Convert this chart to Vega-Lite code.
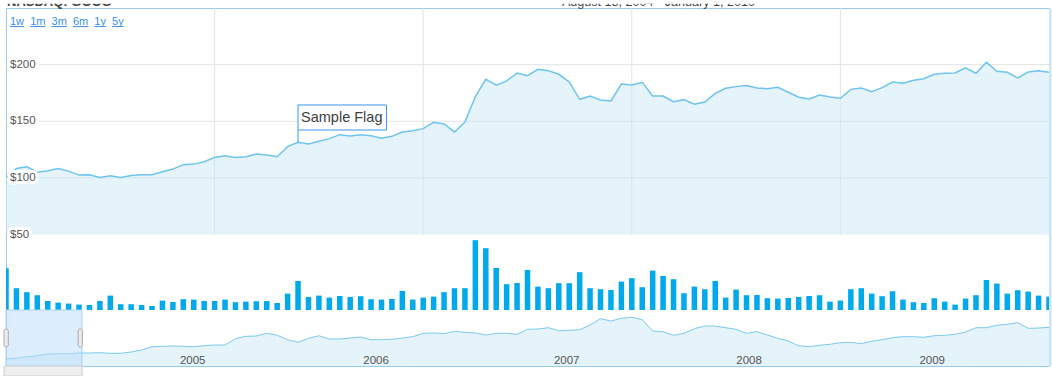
{
  "$schema": "https://vega.github.io/schema/vega-lite/v6.json",
  "width": 1043,
  "height": 358,
  "autosize": {"type": "none"},
  "padding": {"left": 6, "top": 8, "right": 3, "bottom": 10},
  "background": "white",
  "config": {
    "view": {"stroke": "#94ccf4", "strokeWidth": 1},
    "font": "Liberation Sans",
    "scale": {"continuousPadding": 0}
  },
  "datasets": {
    "s": [
      {"i":0,"close":100.2,"vol":20.9,"nav":78},
      {"i":1,"close":108.4,"vol":10.9,"nav":80.8},
      {"i":2,"close":109.9,"vol":8.9,"nav":87.2},
      {"i":3,"close":105.1,"vol":7.4,"nav":91.2},
      {"i":4,"close":106.3,"vol":4.5,"nav":98},
      {"i":5,"close":108.4,"vol":3.7,"nav":99.2},
      {"i":6,"close":106.0,"vol":3.2,"nav":99.2},
      {"i":7,"close":102.5,"vol":2.7,"nav":102},
      {"i":8,"close":102.8,"vol":2.5,"nav":102},
      {"i":9,"close":100.4,"vol":4.5,"nav":103.2},
      {"i":10,"close":101.9,"vol":7.2,"nav":100.8},
      {"i":11,"close":100.4,"vol":2.9,"nav":100.8},
      {"i":12,"close":102.2,"vol":2.9,"nav":106},
      {"i":13,"close":102.8,"vol":2.5,"nav":114},
      {"i":14,"close":102.8,"vol":2.0,"nav":127.2},
      {"i":15,"close":105.5,"vol":4.7,"nav":128.8},
      {"i":16,"close":107.8,"vol":4.0,"nav":130},
      {"i":17,"close":111.7,"vol":5.4,"nav":128.8},
      {"i":18,"close":112.2,"vol":5.2,"nav":127.2},
      {"i":19,"close":114.3,"vol":4.5,"nav":131.2},
      {"i":20,"close":118.1,"vol":4.5,"nav":134},
      {"i":21,"close":119.6,"vol":5.2,"nav":134},
      {"i":22,"close":118.1,"vol":3.9,"nav":159.2},
      {"i":23,"close":118.7,"vol":4.2,"nav":168.8},
      {"i":24,"close":121.1,"vol":4.4,"nav":170},
      {"i":25,"close":120.2,"vol":4.5,"nav":180.8},
      {"i":26,"close":118.7,"vol":3.5,"nav":172.8},
      {"i":27,"close":127.6,"vol":8.2,"nav":155.2},
      {"i":28,"close":131.4,"vol":14.5,"nav":144.8},
      {"i":29,"close":129.9,"vol":6.5,"nav":160.8},
      {"i":30,"close":132.3,"vol":7.2,"nav":171.2},
      {"i":31,"close":134.7,"vol":6.2,"nav":158},
      {"i":32,"close":138.2,"vol":7.0,"nav":158},
      {"i":33,"close":137.0,"vol":6.5,"nav":162},
      {"i":34,"close":138.2,"vol":6.9,"nav":166},
      {"i":35,"close":137.3,"vol":5.4,"nav":155.2},
      {"i":36,"close":135.0,"vol":5.2,"nav":155.2},
      {"i":37,"close":136.7,"vol":5.5,"nav":156.8},
      {"i":38,"close":140.6,"vol":9.5,"nav":162},
      {"i":39,"close":141.7,"vol":5.2,"nav":167.2},
      {"i":40,"close":143.5,"vol":6.2,"nav":180.8},
      {"i":41,"close":149.1,"vol":6.7,"nav":182},
      {"i":42,"close":147.6,"vol":8.9,"nav":179.2},
      {"i":43,"close":140.6,"vol":10.9,"nav":188.8},
      {"i":44,"close":149.4,"vol":10.9,"nav":184.8},
      {"i":45,"close":171.8,"vol":34.9,"nav":182},
      {"i":46,"close":187.1,"vol":30.9,"nav":174},
      {"i":47,"close":181.8,"vol":21.0,"nav":180.8},
      {"i":48,"close":185.6,"vol":12.9,"nav":180.8},
      {"i":49,"close":192.6,"vol":13.5,"nav":176.8},
      {"i":50,"close":190.3,"vol":20.0,"nav":196.8},
      {"i":51,"close":195.9,"vol":11.7,"nav":198},
      {"i":52,"close":194.7,"vol":10.9,"nav":203.2},
      {"i":53,"close":191.5,"vol":13.4,"nav":191.2},
      {"i":54,"close":184.7,"vol":13.4,"nav":192.8},
      {"i":55,"close":169.4,"vol":18.9,"nav":195.2},
      {"i":56,"close":172.3,"vol":10.9,"nav":214},
      {"i":57,"close":168.8,"vol":10.4,"nav":239.2},
      {"i":58,"close":167.9,"vol":10.0,"nav":230},
      {"i":59,"close":182.9,"vol":14.2,"nav":240.8},
      {"i":60,"close":182.1,"vol":15.9,"nav":244.8},
      {"i":61,"close":184.4,"vol":11.4,"nav":235.2},
      {"i":62,"close":172.3,"vol":19.7,"nav":190},
      {"i":63,"close":172.3,"vol":17.0,"nav":187.2},
      {"i":64,"close":167.3,"vol":15.4,"nav":172.8},
      {"i":65,"close":169.1,"vol":8.4,"nav":180.8},
      {"i":66,"close":165.0,"vol":11.7,"nav":199.2},
      {"i":67,"close":167.0,"vol":10.4,"nav":210},
      {"i":68,"close":174.7,"vol":14.5,"nav":210},
      {"i":69,"close":179.1,"vol":6.2,"nav":203.2},
      {"i":70,"close":180.6,"vol":10.2,"nav":196.8},
      {"i":71,"close":181.5,"vol":7.4,"nav":180.8},
      {"i":72,"close":179.4,"vol":7.5,"nav":187.2},
      {"i":73,"close":178.8,"vol":5.9,"nav":174},
      {"i":74,"close":180.0,"vol":5.7,"nav":160.8},
      {"i":75,"close":175.6,"vol":6.0,"nav":150},
      {"i":76,"close":171.2,"vol":6.5,"nav":131.2},
      {"i":77,"close":169.7,"vol":7.0,"nav":127.2},
      {"i":78,"close":173.2,"vol":7.4,"nav":132.8},
      {"i":79,"close":171.5,"vol":4.2,"nav":136.8},
      {"i":80,"close":170.3,"vol":4.7,"nav":143.2},
      {"i":81,"close":178.2,"vol":10.4,"nav":144.8},
      {"i":82,"close":179.4,"vol":10.9,"nav":139.2},
      {"i":83,"close":176.2,"vol":8.2,"nav":148.8},
      {"i":84,"close":179.7,"vol":6.9,"nav":155.2},
      {"i":85,"close":184.7,"vol":9.4,"nav":163.2},
      {"i":86,"close":183.5,"vol":5.2,"nav":167.2},
      {"i":87,"close":186.2,"vol":3.9,"nav":167.2},
      {"i":88,"close":187.6,"vol":3.5,"nav":164.8},
      {"i":89,"close":191.5,"vol":5.9,"nav":171.2},
      {"i":90,"close":192.4,"vol":4.2,"nav":172.8},
      {"i":91,"close":192.6,"vol":2.7,"nav":176.8},
      {"i":92,"close":197.1,"vol":5.7,"nav":186},
      {"i":93,"close":192.4,"vol":7.4,"nav":203.2},
      {"i":94,"close":202.1,"vol":15.0,"nav":203.2},
      {"i":95,"close":194.1,"vol":13.2,"nav":212.8},
      {"i":96,"close":193.2,"vol":8.2,"nav":216.8},
      {"i":97,"close":188.2,"vol":9.9,"nav":223.2},
      {"i":98,"close":193.5,"vol":9.2,"nav":200.8},
      {"i":99,"close":194.7,"vol":7.2,"nav":202},
      {"i":100,"close":193.2,"vol":6.7,"nav":204.8}
    ],
    "hg": [{"v": 100}, {"v": 150}, {"v": 200}],
    "vg": [{"i": 20}, {"i": 40}, {"i": 60}, {"i": 80}],
    "yrs": [{"i": 17.9, "yr": "2005"}, {"i": 35.48, "yr": "2006"}, {"i": 53.76, "yr": "2007"}, {"i": 71.24, "yr": "2008"}, {"i": 88.8, "yr": "2009"}],
    "lab": [{"v": 50, "t": "$50"}, {"v": 100, "t": "$100"}, {"v": 150, "t": "$150"}, {"v": 200, "t": "$200"}]
  },
  "resolve": {"scale": {"y": "independent"}, "axis": {"y": "independent"}},
  "layer": [
    {
      "data": {"name": "hg"},
      "mark": {"type": "rule", "color": "#e3e3e3", "strokeWidth": 1},
      "encoding": {
        "x": {"datum": 0, "type": "quantitative", "scale": {"domain": [0, 100], "nice": false, "zero": false, "padding": 0}, "axis": null},
        "x2": {"datum": 100},
        "y": {"field": "v", "type": "quantitative", "scale": {"domain": [-66, 250], "nice": false, "zero": false}, "axis": null}
      }
    },
    {
      "data": {"name": "vg"},
      "mark": {"type": "rule", "color": "#e3e3e3", "strokeWidth": 1},
      "encoding": {
        "x": {"field": "i", "type": "quantitative", "scale": {"domain": [0, 100], "nice": false, "zero": false, "padding": 0}, "axis": null},
        "y": {"datum": 50, "type": "quantitative", "scale": {"domain": [-66, 250], "nice": false, "zero": false}, "axis": null},
        "y2": {"datum": 250}
      }
    },
    {
      "data": {"name": "s"},
      "mark": {"type": "area", "color": "#cce7f6", "opacity": 0.5},
      "encoding": {
        "x": {"field": "i", "type": "quantitative", "scale": {"domain": [0, 100], "nice": false, "zero": false, "padding": 0}, "axis": null},
        "y": {"field": "close", "type": "quantitative", "scale": {"domain": [-66, 250], "nice": false, "zero": false}, "axis": null},
        "y2": {"datum": 50}
      }
    },
    {
      "data": {"name": "s"},
      "mark": {"type": "line", "color": "#6ec4f0", "strokeWidth": 1.5},
      "encoding": {
        "x": {"field": "i", "type": "quantitative", "scale": {"domain": [0, 100], "nice": false, "zero": false, "padding": 0}, "axis": null},
        "y": {"field": "close", "type": "quantitative", "scale": {"domain": [-66, 250], "nice": false, "zero": false}, "axis": null}
      }
    },
    {
      "data": {"name": "s"},
      "mark": {"type": "bar", "color": "#00a9ec", "width": 5.5, "clip": true},
      "encoding": {
        "x": {"field": "i", "type": "quantitative", "scale": {"domain": [0, 100], "nice": false, "zero": false, "padding": 0}, "axis": null},
        "y": {"field": "vol", "type": "quantitative", "scale": {"domain": [-28, 151], "nice": false, "zero": false}, "axis": null},
        "y2": {"datum": 0}
      }
    },
    {
      "data": {"name": "s"},
      "mark": {"type": "area", "color": "#cce7f6", "opacity": 0.5},
      "encoding": {
        "x": {"field": "i", "type": "quantitative", "scale": {"domain": [0, 100], "nice": false, "zero": false, "padding": 0}, "axis": null},
        "y": {"field": "nav", "type": "quantitative", "scale": {"domain": [50, 1482], "nice": false, "zero": false}, "axis": null},
        "y2": {"datum": 50}
      }
    },
    {
      "data": {"name": "s"},
      "mark": {"type": "line", "color": "#7cc9f1", "strokeWidth": 1},
      "encoding": {
        "x": {"field": "i", "type": "quantitative", "scale": {"domain": [0, 100], "nice": false, "zero": false, "padding": 0}, "axis": null},
        "y": {"field": "nav", "type": "quantitative", "scale": {"domain": [50, 1482], "nice": false, "zero": false}, "axis": null}
      }
    },
    {
      "data": {"name": "yrs"},
      "mark": {"type": "text", "align": "center", "baseline": "alphabetic", "fontSize": 11.5, "color": "#555555", "font": "Liberation Sans"},
      "encoding": {
        "x": {"field": "i", "type": "quantitative", "scale": {"domain": [0, 100], "nice": false, "zero": false, "padding": 0}, "axis": null},
        "y": {"datum": 60, "type": "quantitative", "scale": {"domain": [50, 1482], "nice": false, "zero": false}, "axis": null},
        "text": {"field": "yr"}
      }
    },
    {
      "data": {"values": [{}]},
      "mark": {"type": "rect", "fill": "#b9dcfc", "fillOpacity": 0.5, "stroke": "#a6d2f5", "strokeWidth": 1},
      "encoding": {
        "x": {"datum": 0, "type": "quantitative", "scale": {"domain": [0, 100], "nice": false, "zero": false, "padding": 0}, "axis": null},
        "x2": {"datum": 7.28},
        "y": {"datum": 50, "type": "quantitative", "scale": {"domain": [50, 1482], "nice": false, "zero": false}, "axis": null},
        "y2": {"datum": 274}
      }
    },
    {
      "data": {"values": [{}]},
      "mark": {"type": "rect", "fill": "#ececec", "stroke": "#aaaaaa", "strokeWidth": 1, "cornerRadius": 2},
      "encoding": {
        "x": {"datum": -0.19, "type": "quantitative", "scale": {"domain": [0, 100], "nice": false, "zero": false, "padding": 0}, "axis": null},
        "x2": {"datum": 0.22},
        "y": {"datum": 126, "type": "quantitative", "scale": {"domain": [50, 1482], "nice": false, "zero": false}, "axis": null},
        "y2": {"datum": 198}
      }
    },
    {
      "data": {"values": [{}]},
      "mark": {"type": "rect", "fill": "#ececec", "stroke": "#aaaaaa", "strokeWidth": 1, "cornerRadius": 2},
      "encoding": {
        "x": {"datum": 6.92, "type": "quantitative", "scale": {"domain": [0, 100], "nice": false, "zero": false, "padding": 0}, "axis": null},
        "x2": {"datum": 7.32},
        "y": {"datum": 126, "type": "quantitative", "scale": {"domain": [50, 1482], "nice": false, "zero": false}, "axis": null},
        "y2": {"datum": 198}
      }
    },
    {
      "data": {"values": [{}]},
      "mark": {"type": "rect", "fill": "#eeeeee", "stroke": "#d0d0d0", "strokeWidth": 1},
      "encoding": {
        "x": {"datum": -0.19, "type": "quantitative", "scale": {"domain": [0, 100], "nice": false, "zero": false, "padding": 0}, "axis": null},
        "x2": {"datum": 7.3},
        "y": {"datum": 50, "type": "quantitative", "scale": {"domain": [50, 1482], "nice": false, "zero": false}, "axis": null},
        "y2": {"datum": 10}
      }
    },
    {
      "data": {"values": [{}]},
      "mark": {"type": "rect", "fill": "#c8e4f7"},
      "encoding": {
        "x": {"datum": 100, "type": "quantitative", "scale": {"domain": [0, 100], "nice": false, "zero": false, "padding": 0}, "axis": null},
        "x2": {"datum": 100.24},
        "y": {"datum": 50, "type": "quantitative", "scale": {"domain": [50, 1482], "nice": false, "zero": false}, "axis": null},
        "y2": {"datum": 1482}
      }
    },
    {
      "data": {"values": [{}]},
      "mark": {"type": "rule", "color": "#3a96ee", "strokeWidth": 1},
      "encoding": {
        "x": {"datum": 28, "type": "quantitative", "scale": {"domain": [0, 100], "nice": false, "zero": false, "padding": 0}, "axis": null},
        "y": {"datum": 131.4, "type": "quantitative", "scale": {"domain": [-66, 250], "nice": false, "zero": false}, "axis": null},
        "y2": {"datum": 142.3}
      }
    },
    {
      "data": {"values": [{}]},
      "mark": {"type": "rect", "fill": "white", "stroke": "#3a96ee", "strokeWidth": 1},
      "encoding": {
        "x": {"datum": 28, "type": "quantitative", "scale": {"domain": [0, 100], "nice": false, "zero": false, "padding": 0}, "axis": null},
        "x2": {"datum": 36.48},
        "y": {"datum": 142.3, "type": "quantitative", "scale": {"domain": [-66, 250], "nice": false, "zero": false}, "axis": null},
        "y2": {"datum": 164.4}
      }
    },
    {
      "data": {"values": [{}]},
      "mark": {"type": "text", "text": "Sample Flag", "align": "left", "baseline": "middle", "dx": 3, "fontSize": 14.5, "color": "#3d3d3d", "font": "Liberation Sans"},
      "encoding": {
        "x": {"datum": 28, "type": "quantitative", "scale": {"domain": [0, 100], "nice": false, "zero": false, "padding": 0}, "axis": null},
        "y": {"datum": 153.3, "type": "quantitative", "scale": {"domain": [-66, 250], "nice": false, "zero": false}, "axis": null}
      }
    },
    {
      "data": {"name": "lab"},
      "mark": {"type": "text", "align": "left", "baseline": "middle", "dx": 4, "fontSize": 11.5, "color": "white", "stroke": "white", "strokeWidth": 6, "strokeJoin": "round", "font": "Liberation Sans"},
      "encoding": {
        "x": {"datum": 0, "type": "quantitative", "scale": {"domain": [0, 100], "nice": false, "zero": false, "padding": 0}, "axis": null},
        "y": {"field": "v", "type": "quantitative", "scale": {"domain": [-66, 250], "nice": false, "zero": false}, "axis": null},
        "text": {"field": "t"}
      }
    },
    {
      "data": {"name": "lab"},
      "mark": {"type": "text", "align": "left", "baseline": "middle", "dx": 4, "fontSize": 11.5, "color": "#555555", "font": "Liberation Sans"},
      "encoding": {
        "x": {"datum": 0, "type": "quantitative", "scale": {"domain": [0, 100], "nice": false, "zero": false, "padding": 0}, "axis": null},
        "y": {"field": "v", "type": "quantitative", "scale": {"domain": [-66, 250], "nice": false, "zero": false}, "axis": null},
        "text": {"field": "t"}
      }
    },
    {
      "data": {"values": [{}]},
      "mark": {"type": "text", "text": "NASDAQ: GOOG", "align": "left", "baseline": "alphabetic", "dx": 1, "fontSize": 13, "fontWeight": "bold", "color": "#444444", "font": "Liberation Sans"},
      "encoding": {
        "x": {"datum": 0, "type": "quantitative", "scale": {"domain": [0, 100], "nice": false, "zero": false, "padding": 0}, "axis": null},
        "y": {"datum": 251.6, "type": "quantitative", "scale": {"domain": [-66, 250], "nice": false, "zero": false}, "axis": null}
      }
    },
    {
      "data": {"values": [{}]},
      "mark": {"type": "text", "text": "August 18, 2004 - January 1, 2010", "align": "center", "baseline": "alphabetic", "fontSize": 12.6, "color": "#444444", "font": "Liberation Sans"},
      "encoding": {
        "x": {"datum": 62.56, "type": "quantitative", "scale": {"domain": [0, 100], "nice": false, "zero": false, "padding": 0}, "axis": null},
        "y": {"datum": 251.6, "type": "quantitative", "scale": {"domain": [-66, 250], "nice": false, "zero": false}, "axis": null}
      }
    },
    {
      "data": {"values": [{}]},
      "mark": {"type": "rect", "fill": "white"},
      "encoding": {
        "x": {"datum": -1, "type": "quantitative", "scale": {"domain": [0, 100], "nice": false, "zero": false, "padding": 0}, "axis": null},
        "x2": {"datum": 100.4},
        "y": {"datum": 253.8, "type": "quantitative", "scale": {"domain": [-66, 250], "nice": false, "zero": false}, "axis": null},
        "y2": {"datum": 262}
      }
    },
    {
      "data": {"values": [{}]},
      "mark": {"type": "text", "text": "1w\u00a0\u00a01m\u00a0\u00a03m\u00a0\u00a06m\u00a0\u00a01y\u00a0\u00a05y", "align": "left", "baseline": "alphabetic", "dx": 4, "fontSize": 11, "color": "#3990e6", "font": "Liberation Sans"},
      "encoding": {
        "x": {"datum": 0, "type": "quantitative", "scale": {"domain": [0, 100], "nice": false, "zero": false, "padding": 0}, "axis": null},
        "y": {"datum": 235.0, "type": "quantitative", "scale": {"domain": [-66, 250], "nice": false, "zero": false}, "axis": null}
      }
    },
    {
      "data": {"values": [{}]},
      "mark": {"type": "rule", "color": "#3990e6", "strokeWidth": 1, "strokeCap": "butt", "strokeDash": [14.06, 6.12, 15.28, 6.12, 15.28, 6.12, 15.28, 6.12, 11.62, 6.12, 11.62, 40]},
      "encoding": {
        "x": {"datum": 0.3835, "type": "quantitative", "scale": {"domain": [0, 100], "nice": false, "zero": false, "padding": 0}, "axis": null},
        "x2": {"datum": 11.29},
        "y": {"datum": 233.6, "type": "quantitative", "scale": {"domain": [-66, 250], "nice": false, "zero": false}, "axis": null}
      }
    }
  ]
}
